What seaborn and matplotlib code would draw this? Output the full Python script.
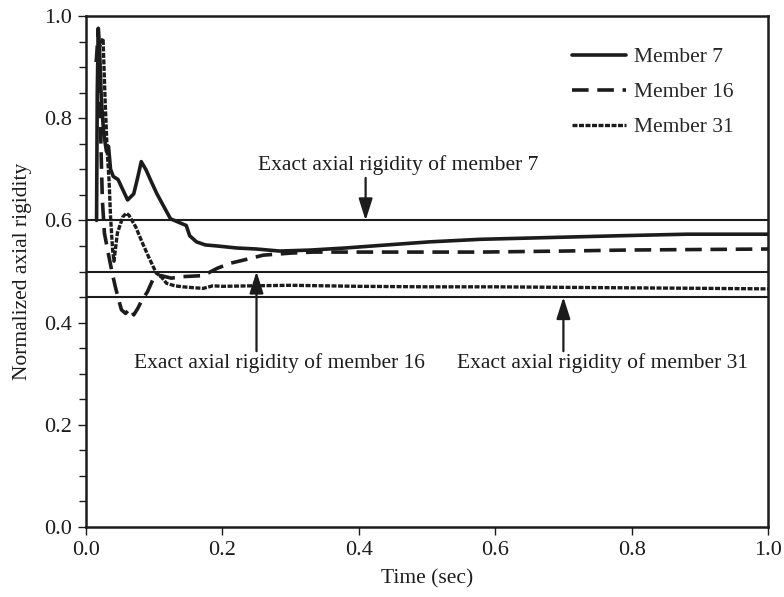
import matplotlib
matplotlib.use("Agg")
import matplotlib.pyplot as plt
from matplotlib.ticker import MultipleLocator, FormatStrFormatter
import seaborn as sns
import pandas as pd

# Identified normalized axial rigidity histories
t7 = [0.0155, 0.0165, 0.018, 0.020, 0.0225, 0.026, 0.030, 0.033, 0.036, 0.040,
      0.047, 0.054, 0.061, 0.070, 0.076, 0.081, 0.088, 0.096, 0.104, 0.117,
      0.124, 0.133, 0.140, 0.147, 0.152, 0.162, 0.175, 0.192, 0.221, 0.250,
      0.284, 0.330, 0.380, 0.431, 0.504, 0.578, 0.666, 0.783, 0.881, 1.000]
y7 = [0.600, 0.850, 0.976, 0.930, 0.836, 0.770, 0.735, 0.745, 0.700, 0.686,
      0.680, 0.660, 0.640, 0.652, 0.685, 0.715, 0.699, 0.675, 0.652, 0.620,
      0.603, 0.598, 0.594, 0.590, 0.570, 0.558, 0.552, 0.550, 0.546, 0.544,
      0.540, 0.542, 0.546, 0.551, 0.558, 0.563, 0.566, 0.570, 0.573, 0.573]

t16 = [0.015, 0.018, 0.020, 0.022, 0.024, 0.027, 0.032, 0.038, 0.043, 0.048,
       0.052, 0.058, 0.065, 0.070, 0.076, 0.082, 0.090, 0.100, 0.110, 0.125,
       0.142, 0.172, 0.192, 0.211, 0.230, 0.260, 0.300, 0.333, 0.431, 0.578,
       0.700, 0.793, 1.000]
y16 = [0.910, 0.970, 0.880, 0.740, 0.640, 0.575, 0.540, 0.500, 0.470, 0.444,
       0.425, 0.418, 0.428, 0.415, 0.428, 0.444, 0.460, 0.490, 0.492, 0.487,
       0.490, 0.492, 0.506, 0.516, 0.522, 0.532, 0.536, 0.538, 0.538, 0.538,
       0.540, 0.542, 0.544]

t31 = [0.015, 0.020, 0.025, 0.028, 0.031, 0.034, 0.036, 0.039, 0.041, 0.046,
       0.054, 0.059, 0.063, 0.073, 0.083, 0.092, 0.103, 0.110, 0.118, 0.130,
       0.142, 0.160, 0.172, 0.186, 0.200, 0.245, 0.300, 0.400, 0.500, 0.600,
       0.700, 0.800, 0.910, 1.000]
y31 = [0.910, 0.940, 0.956, 0.836, 0.738, 0.673, 0.607, 0.542, 0.520, 0.575,
       0.607, 0.614, 0.610, 0.587, 0.555, 0.528, 0.497, 0.490, 0.477, 0.472,
       0.470, 0.468, 0.467, 0.472, 0.471, 0.472, 0.473, 0.471, 0.470, 0.470,
       0.469, 0.468, 0.467, 0.466]

# Exact (reference) axial rigidities
exact_values = [0.60, 0.50, 0.45]
exact_labels = ["Exact axial rigidity of member 7",
                "Exact axial rigidity of member 16",
                "Exact axial rigidity of member 31"]

series_names = ["Member 7", "Member 16", "Member 31"]

sns.set_style("ticks")
plt.rcParams["font.family"] = ["Liberation Serif", "DejaVu Serif"]

INK = "#1c1c1c"
FS = 15.5

fig = plt.figure(figsize=(7.84, 5.97), dpi=100)
ax = fig.add_axes([86 / 784, 1 - 527 / 597, 682 / 784, 511 / 597])

styles = [
    dict(linestyle="-", lw=2.6),
    dict(linestyle=(0, (4.6, 2.4)), lw=2.6),
    dict(linestyle=(0, (1.5, 0.45)), lw=2.4),
]
for name, tt, yy, st in zip(series_names, [t7, t16, t31], [y7, y16, y31], styles):
    df = pd.DataFrame({"t": tt, "k": yy})
    sns.lineplot(data=df, x="t", y="k", ax=ax, color=INK, label=name,
                 sort=False, estimator=None, **st)

for v in exact_values:
    ax.axhline(v, color=INK, lw=1.5, zorder=1)

arrow_kw = dict(arrowstyle="-|>,head_length=1.1,head_width=0.35", color=INK,
                lw=1.6, mutation_scale=12, shrinkA=0, shrinkB=0)
ax.annotate("", xy=(0.41, 0.600), xytext=(0.41, 0.683), arrowprops=arrow_kw)
ax.annotate("", xy=(0.25, 0.500), xytext=(0.25, 0.344), arrowprops=arrow_kw)
ax.annotate("", xy=(0.70, 0.450), xytext=(0.70, 0.344), arrowprops=arrow_kw)
ax.text(0.4575, 0.708, exact_labels[0], ha="center", va="center", fontsize=FS, color=INK)
ax.text(0.283, 0.321, exact_labels[1], ha="center", va="center", fontsize=FS, color=INK)
ax.text(0.757, 0.321, exact_labels[2], ha="center", va="center", fontsize=FS, color=INK)

ax.set_xlim(0, 1.0)
ax.set_ylim(0, 1.0)
ax.xaxis.set_major_locator(MultipleLocator(0.2))
ax.yaxis.set_major_locator(MultipleLocator(0.2))
ax.yaxis.set_minor_locator(MultipleLocator(0.05))
ax.xaxis.set_major_formatter(FormatStrFormatter("%.1f"))
ax.yaxis.set_major_formatter(FormatStrFormatter("%.1f"))
ax.tick_params(axis="both", which="major", direction="out", length=6, width=1,
               color=INK, labelsize=FS + 0.5, labelcolor=INK, pad=4)
ax.tick_params(axis="y", which="minor", direction="out", length=5, width=1, color=INK)

for sp in ax.spines.values():
    sp.set_visible(True)
    sp.set_linewidth(1.8)
    sp.set_color(INK)

ax.set_xlabel("Time (sec)", fontsize=FS, color=INK, labelpad=7)
ax.set_ylabel("Normalized axial rigidity", fontsize=FS, color=INK, labelpad=9)

handles, labels = ax.get_legend_handles_labels()
ax.legend(handles, labels, loc="upper left", bbox_to_anchor=(0.7126, 0.939),
          frameon=False, fontsize=FS, handlelength=2.5, handletextpad=0.4,
          labelspacing=0.69, borderpad=0, borderaxespad=0)

fig.savefig("out.png", dpi=100)
